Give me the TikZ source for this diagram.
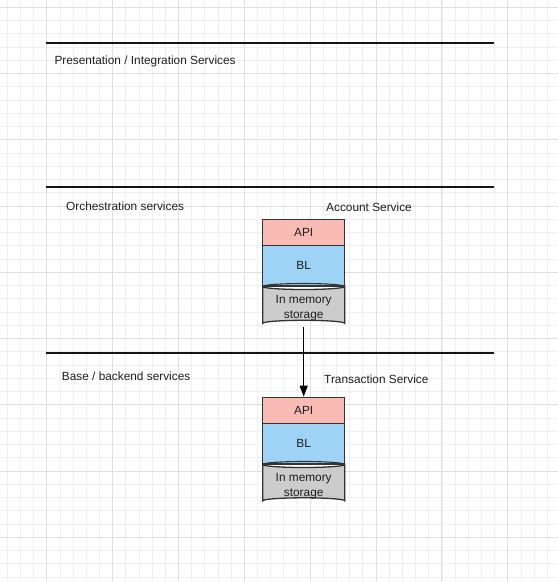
\documentclass[tikz,border=0pt]{standalone}
\usepackage{fontspec}
\setmainfont{Liberation Sans}
\usetikzlibrary{arrows.meta}
\definecolor{apifill}{HTML}{FABBB4}
\definecolor{blfill}{HTML}{9FD3F5}
\definecolor{cylfill}{HTML}{CCCCCC}
\definecolor{edgecol}{HTML}{333333}
\definecolor{gridminor}{HTML}{F0F0F0}
\definecolor{gridmajor}{HTML}{E0E0E0}
\tikzset{
  minorline/.style={draw=gridminor, line width=0.8pt},
  majorline/.style={draw=gridmajor, line width=0.9pt},
  tierline/.style={draw=black!92, line width=2pt},
  lbl/.style={font=\fontsize{11.85}{14}\selectfont, text=black!88, inner sep=0pt, anchor=west},
  layerbox/.style={draw=edgecol, line width=1.3pt, minimum width=82pt, inner sep=0pt,
                   font=\fontsize{11.85}{14}\selectfont, text=black!88},
  cylbody/.style={fill=cylfill, draw=edgecol, line width=1.3pt},
  cylframe/.style={minimum width=82pt, minimum height=39.8pt, inner sep=0pt},
  cyltext/.style={inner sep=0pt, align=center,
                  font=\fontsize{11.85}{15}\selectfont, text=black!88},
  flow/.style={draw=black, line width=1.2pt, -{Triangle[length=11pt,width=8pt]}}
}
\begin{document}
\begin{tikzpicture}[x=1pt,y=-1pt]
\useasboundingbox (0,0) rectangle (558,582);
\fill[white] (0,0) rectangle (558,582);
% grid
\foreach \i in {0,...,42} \draw[minorline] ({7.3+\i*13.17},0) -- ({7.3+\i*13.17},582);
\foreach \j in {0,...,43} \draw[minorline] (0,{7.3+\j*13.25}) -- (558,{7.3+\j*13.25});
\foreach \i in {0,...,7} \draw[majorline] ({46.8+\i*65.85},0) -- ({46.8+\i*65.85},582);
\foreach \j in {0,...,8} \draw[majorline] (0,{7.3+\j*66.25}) -- (558,{7.3+\j*66.25});
% tier lines
\coordinate (t1a) at (45.5,42.5);  \coordinate (t1b) at (494.3,42.5);
\coordinate (t2a) at (45.5,187.3); \coordinate (t2b) at (494.3,187.3);
\coordinate (t3a) at (45.5,352.7); \coordinate (t3b) at (494.3,352.7);
\draw[tierline] (t1a) -- (t1b);
\draw[tierline] (t2a) -- (t2b);
\draw[tierline] (t3a) -- (t3b);
% tier labels
\node[lbl] (pres) at (54.3,61.7) {Presentation / Integration Services};
\node[lbl] (orch) at (66,206) {Orchestration services};
\node[lbl] (base) at (61.7,376) {Base / backend services};
\node[lbl] (acct) at (326,207.3) {Account Service};
\node[lbl] (trans) at (324,379.3) {Transaction Service};
% Account service stack
\node[layerbox, fill=apifill, minimum height=26.4pt] (aapi) at (303.7,232.5) {API};
\node[layerbox, fill=blfill, minimum height=40.3pt] (abl) at (303.7,265.85) {\raisebox{1pt}{BL}};
\path[cylbody] (262.7,286.5) -- (262.7,323.3)
  arc[start angle=180,end angle=360,x radius=41,y radius=3] -- (344.7,286.5)
  arc[start angle=0,end angle=180,x radius=41,y radius=3] -- cycle;
\draw[draw=edgecol, line width=1.1pt] (262.7,286.5) arc[start angle=180,end angle=360,x radius=41,y radius=3];
\node[cylframe] (amem) at (303.7,306.4) {};
\node[cyltext] (amemtxt) at (303.7,308.6) {In memory\\storage};
% Transaction service stack
\node[layerbox, fill=apifill, minimum height=26.4pt] (tapi) at (303.7,410.5) {API};
\node[layerbox, fill=blfill, minimum height=40.3pt] (tbl) at (303.7,443.85) {\raisebox{1pt}{BL}};
\path[cylbody] (262.7,464.5) -- (262.7,500.8)
  arc[start angle=180,end angle=360,x radius=41,y radius=3] -- (344.7,464.5)
  arc[start angle=0,end angle=180,x radius=41,y radius=3] -- cycle;
\draw[draw=edgecol, line width=1.1pt] (262.7,464.5) arc[start angle=180,end angle=360,x radius=41,y radius=3];
\node[cylframe] (tmem) at (303.7,484.4) {};
\node[cyltext] (tmemtxt) at (303.7,486.6) {In memory\\storage};
% connector
\draw[flow] (amem.south) -- (tapi.north);
\end{tikzpicture}
\end{document}
